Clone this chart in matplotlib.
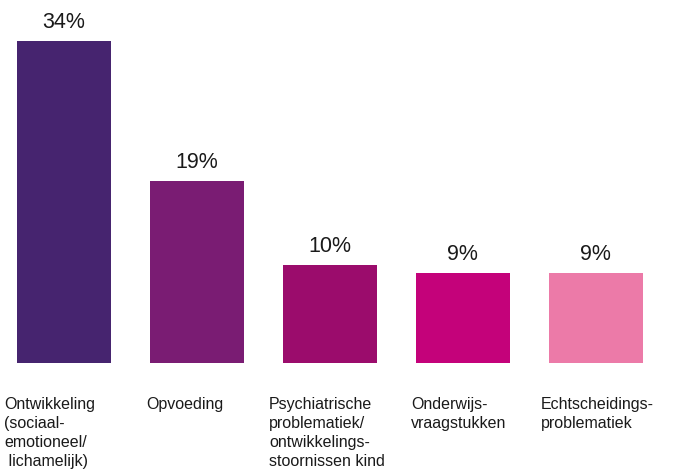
import matplotlib
matplotlib.use("Agg")
import matplotlib.pyplot as plt

categories = [
    "Ontwikkeling\n(sociaal-\nemotioneel/\n lichamelijk)",
    "Opvoeding",
    "Psychiatrische\nproblematiek/\nontwikkelings-\nstoornissen kind",
    "Onderwijs-\nvraagstukken",
    "Echtscheidings-\nproblematiek",
]
values = [34, 19.2, 10.4, 9.5, 9.5]
value_labels = ["34%", "19%", "10%", "9%", "9%"]
colors = ["#46246f", "#7a1c73", "#9b0c6c", "#c4027a", "#ec7aa8"]

# left edge (px) of each category label, as in the original layout
label_left_px = [4, 146, 269, 411, 541]

W, H = 673, 469
plt.rcParams["font.family"] = ["Liberation Sans", "DejaVu Sans"]

fig = plt.figure(figsize=(W / 100, H / 100), dpi=100)
bottom_px = 106
ax = fig.add_axes([0, bottom_px / H, 1, 1 - bottom_px / H])

step = 133.0
x = list(range(len(values)))
ax.bar(x, values, width=94 / step, color=colors)
ax.set_xlim(-63.5 / step, (W - 63.5) / step)
ax.set_ylim(0, 363 / 322 * 34)

for xi, v, lab in zip(x, values, value_labels):
    ax.annotate(lab, (xi, v), xytext=(0, 13 * 0.72), textcoords="offset points",
                ha="center", va="baseline", fontsize=15.5, color="#1a1a1a")

for lx, cat in zip(label_left_px, categories):
    fig.text(lx / W, 1 - 397 / H, cat, ha="left", va="top", fontsize=11.5,
             color="#1a1a1a", linespacing=1.32)

ax.axis("off")
fig.savefig("out.png", dpi=100)
